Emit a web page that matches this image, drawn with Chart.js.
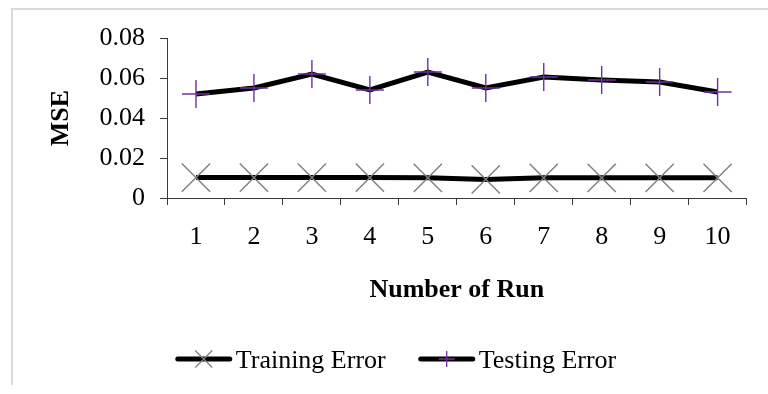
<!DOCTYPE html>
<html>
<head>
<meta charset="utf-8">
<title>MSE per run</title>
<script src="https://cdn.jsdelivr.net/npm/chart.js@4/dist/chart.umd.min.js"></script>
<style>
  html, body { margin: 0; padding: 0; background: #ffffff; }
  #wrap { position: relative; width: 768px; height: 394px; overflow: hidden; }
  #frame {
    position: absolute; left: 11px; top: 8px; width: 780px; height: 375px;
    border-top: 2px solid #dadada; border-left: 2px solid #dadada;
    pointer-events: none;
  }
  #chart { position: absolute; left: 0; top: 0; }
</style>
</head>
<body>
<div id="wrap">
  <canvas id="chart" width="768" height="394"></canvas>
  <div id="frame"></div>
</div>
<script>
// Run numbers along the x axis
const runs = ['1', '2', '3', '4', '5', '6', '7', '8', '9', '10'];
// Mean squared error of each run
const trainingError = [0.0102, 0.0102, 0.0102, 0.0102, 0.0101, 0.0093, 0.0101, 0.0101, 0.0101, 0.0101];
const testingError  = [0.052, 0.055, 0.062, 0.054, 0.063, 0.055, 0.0605, 0.059, 0.058, 0.053];
// Labels shown on the MSE axis
const yTickLabels = ['0', '0.02', '0.04', '0.06', '0.08'];
const yStep = 0.02;

const SERIF = '"Liberation Serif", "Times New Roman", serif';
const AXIS_COLOR = '#3a3a3a';
const TRAIN_MARK = '#7f7f7f';
const TEST_MARK = '#7030a0';

Chart.defaults.font.family = SERIF;
Chart.defaults.color = '#000000';

// Draws each series' sample (line + marker) with its name under the plot
const lineLegend = {
  id: 'lineLegend',
  afterDraw(chart, args, opts) {
    const ctx = chart.ctx;
    const sampleW = 56, textGap = 4, itemGap = 33;
    ctx.save();
    ctx.font = '26px ' + SERIF;
    const items = chart.data.datasets.map(ds => ({
      ds,
      w: sampleW + textGap + ctx.measureText(ds.label).width
    }));
    const total = items.reduce((s, it) => s + it.w, 0) + itemGap * (items.length - 1);
    let x = opts.centerX - total / 2;
    const y = opts.centerY;
    items.forEach(it => {
      const ds = it.ds;
      // sample line
      ctx.strokeStyle = ds.borderColor;
      ctx.lineWidth = ds.borderWidth;
      ctx.lineCap = 'round';
      ctx.beginPath();
      ctx.moveTo(x + 2, y);
      ctx.lineTo(x + sampleW - 2, y);
      ctx.stroke();
      // marker
      const cx = x + sampleW / 2;
      ctx.strokeStyle = ds.pointBorderColor;
      ctx.lineWidth = 1.3;
      ctx.lineCap = 'butt';
      ctx.beginPath();
      if (ds.pointStyle === 'crossRot') {
        const r = 8.5;
        ctx.moveTo(cx - r, y - r); ctx.lineTo(cx + r, y + r);
        ctx.moveTo(cx - r, y + r); ctx.lineTo(cx + r, y - r);
      } else {
        const r = 8;
        ctx.moveTo(cx - r, y); ctx.lineTo(cx + r, y);
        ctx.moveTo(cx, y - r); ctx.lineTo(cx, y + r);
      }
      ctx.stroke();
      // name
      ctx.fillStyle = '#000000';
      ctx.textAlign = 'left';
      ctx.textBaseline = 'alphabetic';
      ctx.fillText(ds.label, x + sampleW + textGap, y + 9);
      x += it.w + itemGap;
    });
    ctx.restore();
  }
};

new Chart(document.getElementById('chart'), {
  type: 'line',
  data: {
    labels: runs,
    datasets: [
      {
        label: 'Training Error',
        data: trainingError,
        borderColor: '#000000',
        borderWidth: 5,
        tension: 0,
        pointStyle: 'crossRot',
        pointRadius: 20,
        pointBorderColor: TRAIN_MARK,
        pointBorderWidth: 1.4,
        pointBackgroundColor: TRAIN_MARK,
        pointHoverRadius: 20
      },
      {
        label: 'Testing Error',
        data: testingError,
        borderColor: '#000000',
        borderWidth: 5,
        tension: 0,
        pointStyle: 'cross',
        pointRadius: 14,
        pointBorderColor: TEST_MARK,
        pointBorderWidth: 1.4,
        pointBackgroundColor: TEST_MARK,
        pointHoverRadius: 14
      }
    ]
  },
  options: {
    responsive: false,
    animation: false,
    devicePixelRatio: 1,
    clip: false,
    layout: { padding: { top: 38, right: 20, bottom: 84, left: 0 } },
    plugins: {
      legend: { display: false },
      tooltip: { enabled: false },
      lineLegend: { centerX: 396, centerY: 359 }
    },
    scales: {
      x: {
        type: 'category',
        offset: true,
        grid: {
          offset: true,
          drawOnChartArea: false,
          drawTicks: true,
          tickLength: 7,
          color: AXIS_COLOR,
          tickColor: AXIS_COLOR
        },
        border: { display: true, color: AXIS_COLOR, width: 1 },
        ticks: {
          font: { size: 26 },
          color: '#000000',
          padding: 17,
          maxRotation: 0,
          autoSkip: false
        },
        title: {
          display: true,
          text: 'Number of Run',
          font: { size: 26, weight: 'bold' },
          color: '#000000',
          padding: { top: 4, bottom: 4 }
        },
        afterFit(scale) { scale.height = 112; }
      },
      y: {
        min: 0,
        max: 0.08,
        grid: {
          drawOnChartArea: false,
          drawTicks: true,
          tickLength: 7,
          color: AXIS_COLOR,
          tickColor: AXIS_COLOR
        },
        border: { display: true, color: AXIS_COLOR, width: 1 },
        ticks: {
          stepSize: yStep,
          font: { size: 26 },
          color: '#000000',
          padding: 15,
          callback: (value) => yTickLabels[Math.round(value / yStep)]
        },
        title: {
          display: true,
          text: 'MSE',
          font: { size: 26, weight: 'bold' },
          color: '#000000',
          padding: { top: 46, bottom: 4 }
        },
        afterFit(scale) { scale.width = 167; }
      }
    }
  },
  plugins: [lineLegend]
});
</script>
</body>
</html>
